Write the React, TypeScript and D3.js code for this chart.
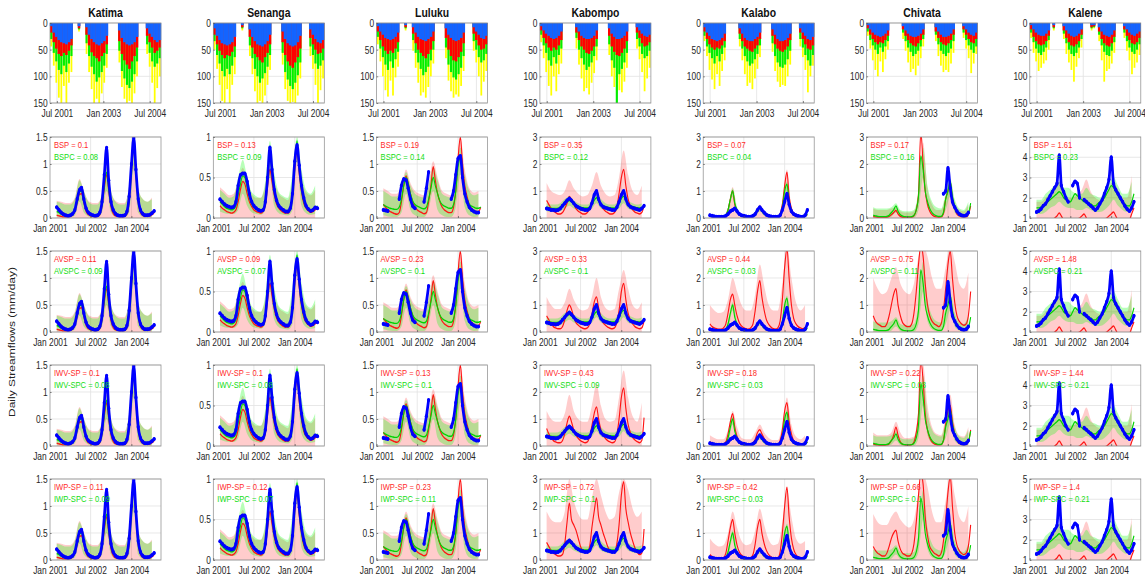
import { useEffect, useRef } from 'react';
import * as d3 from 'd3';

// the source figure is squeezed sideways, so it is drawn wide and scaled back by SX
const SX = 0.8;
const COL0 = 50, COL_STEP = 163.3, PW = 111;
const TOP_Y = 23, TOP_H = 80;
const ROW_Y = [137, 251, 365, 479], ROW_H = 81;
const FONT = 'Liberation Sans, Arial, Helvetica, sans-serif';

const stationNames = ['Katima', 'Senanga', 'Luluku', 'Kabompo', 'Kalabo', 'Chivata', 'Kalene'];
const statLabels = [['BSP', 'BSPC'], ['AVSP', 'AVSPC'], ['IWV-SP', 'IWV-SPC'], ['IWP-SP', 'IWP-SPC']];

// monthly steps, Apr 2001 .. Nov 2004 (bands every 2nd month)
const months = d3.timeMonth.range(new Date(2001, 3, 1), new Date(2004, 11, 1));
const bandMonths = months.filter((_, i) => i % 2 === 0);
const topDomain = [new Date(2001, 3, 10), new Date(2004, 10, 10)];
const topTicks = [new Date(2001, 6, 1), new Date(2003, 0, 1), new Date(2004, 6, 1)];
const lowDomain = [new Date(2001, 0, 1), new Date(2005, 1, 1)];
const lowTicks = [new Date(2001, 0, 1), new Date(2002, 6, 1), new Date(2004, 0, 1)];
const rainTicks = [0, 50, 100, 150];

// ---- rainfall (top row), depth in mm, 44 bars ----
const katimaBlue = [6,18,26,32,36,38,40,36,30, 0,0,6,0,0, 8,22,30,36,40,42,38,34,24, 0,0,0,0, 14,28,36,40,42,40,36,26, 0,0,0, 10,20,26,32,36,32];
const katimaRed = [18,36,48,58,62,56,60,52,42, 0,0,10,0,0, 22,42,55,62,66,72,62,56,40, 0,0,0,0, 34,58,70,78,86,72,62,46, 0,0,0, 24,36,46,56,52,46];
const katimaGreen = [30,56,72,88,96,80,92,76,62, 0,0,12,0,0, 38,62,82,96,110,102,92,80,58, 0,0,0,0, 52,90,104,116,122,110,96,72, 0,0,0, 40,56,72,82,76,66];
const katimaYellow = [44,80,112,140,150,118,150,112,92, 0,0,16,0,0, 58,92,124,150,142,150,132,112,84, 0,0,0,0, 74,120,142,150,146,150,132,100, 0,0,0, 58,82,112,150,122,100];

const senangaBlue = [10,24,32,38,40,42,40,36,26, 0,0,4,0,0, 12,26,34,40,42,44,40,34,22, 0,0,0,0, 16,30,38,42,44,42,36,24, 0,0,0, 12,22,30,36,38,32];
const senangaRed = [22,40,52,60,66,60,62,54,44, 0,0,8,0,0, 26,46,58,64,70,74,64,56,40, 0,0,0,0, 36,60,72,80,84,74,64,48, 0,0,0, 28,40,50,58,56,48];
const senangaGreen = [34,60,76,90,100,86,96,80,64, 0,0,10,0,0, 42,66,86,100,112,104,94,82,60, 0,0,0,0, 56,92,106,118,124,112,98,74, 0,0,0, 44,60,76,86,80,70];
const senangaYellow = [50,86,116,146,150,124,150,116,96, 0,0,14,0,0, 62,96,128,150,146,150,136,116,88, 0,0,0,0, 78,124,146,150,148,150,136,104, 0,0,0, 62,86,116,150,126,104];

const lulukuBlue = [6,16,22,28,30,32,30,26,18, 0,0,4,0,0, 8,18,26,30,32,34,30,26,16, 0,0,0,0, 10,22,28,32,34,32,28,18, 0,0,0, 8,16,22,28,30,24];
const lulukuRed = [16,32,44,52,58,52,56,48,36, 0,0,8,0,0, 20,38,50,56,62,66,58,50,34, 0,0,0,0, 28,50,62,70,72,64,54,38, 0,0,0, 20,32,42,50,48,40];
const lulukuGreen = [26,48,64,78,88,72,84,68,54, 0,0,10,0,0, 32,56,74,86,98,92,82,70,50, 0,0,0,0, 46,78,92,102,106,96,84,62, 0,0,0, 34,50,64,74,70,58];
const lulukuYellow = [40,72,100,126,138,108,136,102,82, 0,0,14,0,0, 52,84,112,136,130,140,120,100,76, 0,0,0,0, 66,108,128,140,134,138,118,90, 0,0,0, 52,74,100,136,110,90];

const kabompoBlue = [6,14,20,24,28,30,28,24,16, 0,0,0,0,0, 8,16,24,28,30,30,28,24,14, 0,0,0,0, 10,20,26,30,30,28,24,16, 0,0,0, 8,14,20,24,26,22];
const kabompoRed = [14,28,38,46,52,46,50,42,32, 0,0,0,0,0, 18,32,44,50,56,58,52,44,30, 0,0,0,0, 24,44,54,60,62,56,48,34, 0,0,0, 18,28,38,44,42,36];
const kabompoGreen = [22,42,56,70,80,64,76,60,48, 0,0,0,0,0, 28,50,66,78,88,82,74,62,44, 0,0,0,0, 40,70,84,150,96,86,74,56, 0,0,0, 30,44,58,66,62,52];
const kabompoYellow = [36,66,92,118,136,100,128,96,76, 0,0,0,0,0, 48,78,104,128,122,134,112,94,70, 0,0,0,0, 60,100,120,132,126,130,110,84, 0,0,0, 48,68,92,128,104,84];

const kalaboBlue = [8,18,24,30,32,34,32,28,20, 0,0,0,0,0, 10,20,28,32,34,34,30,26,18, 0,0,0,0, 12,22,30,34,34,32,28,20, 0,0,0, 10,18,24,30,32,26];
const kalaboRed = [16,30,40,46,50,46,48,42,34, 0,0,0,0,0, 20,34,44,48,52,54,48,42,30, 0,0,0,0, 24,40,48,52,54,50,44,32, 0,0,0, 18,30,40,48,50,42];
const kalaboGreen = [24,44,56,66,76,62,72,58,46, 0,0,0,0,0, 30,48,62,72,80,76,68,58,42, 0,0,0,0, 38,62,74,82,84,78,68,52, 0,0,0, 30,46,60,70,80,60];
const kalaboYellow = [34,62,88,106,124,96,118,90,70, 0,0,0,0,0, 44,70,96,118,112,124,104,86,64, 0,0,0,0, 54,90,110,120,116,118,100,78, 0,0,0, 44,64,88,130,100,80];

const chivataBlue = [4,12,18,22,24,26,24,20,14, 0,0,0,0,0, 6,14,20,24,26,26,24,20,12, 0,0,0,0, 8,16,22,26,26,24,20,12, 0,0,0, 6,12,18,22,24,18];
const chivataRed = [10,22,30,36,40,36,38,32,24, 0,0,0,0,0, 12,24,32,38,42,44,38,32,22, 0,0,0,0, 16,28,36,40,42,38,32,22, 0,0,0, 12,22,30,36,38,30];
const chivataGreen = [16,32,42,50,58,46,54,44,34, 0,0,0,0,0, 18,34,46,54,62,58,52,44,30, 0,0,0,0, 22,40,52,58,62,56,48,34, 0,0,0, 18,32,42,50,56,44];
const chivataYellow = [24,48,70,88,100,72,92,68,50, 0,0,0,0,0, 30,52,74,92,86,98,80,66,44, 0,0,0,0, 34,62,80,92,88,92,76,56, 0,0,0, 28,48,66,94,76,58];

const kaleneBlue = [4,12,18,22,24,24,20,14, 0,4,0,0,0, 6,14,20,24,26,24,20,12, 0,0,0,4,4,0, 8,16,22,24,26,22,14, 0,0,0, 6,12,18,22,24,20,16];
const kaleneRed = [12,26,34,40,42,40,34,24, 0,8,0,0,0, 14,28,36,42,44,40,34,22, 0,0,0,8,6,0, 16,30,38,42,44,38,26, 0,0,0, 12,24,32,38,40,36,28];
const kaleneGreen = [18,36,48,56,60,54,46,32, 0,10,0,0,0, 20,38,50,58,62,56,46,30, 0,0,0,10,8,0, 22,42,54,60,62,52,36, 0,0,0, 18,34,46,54,58,50,40];
const kaleneYellow = [28,56,72,90,84,76,70,50, 0,14,0,0,0, 30,58,74,88,110,82,66,46, 0,0,0,14,10,0, 34,70,110,90,86,76,56, 0,0,0, 28,52,70,96,84,74,60];

// ---- streamflow (mm/day), monthly ----
const katimaObs = [.2,.15,.1,.07,.05,.04,.05,.08,.15,.35,.52, .56,.35,.18,.1,.07,.05,.04,.05,.1,.3,.8, 1.3,.7,.3,.15,.08,.05,.04,.04,.05,.12,.4, 1.0,1.48,.9,.35,.15,.08,.05,.05,.06,.09,.13];
const katimaSp = [.05,.04,.03,.02,.02,.02,.03,.05,.12,.28,.44, .45,.28,.12,.06,.04,.03,.02,.03,.06,.22,.55, .8,.5,.2,.08,.04,.03,.02,.02,.03,.07,.3, .85,1.33,.8,.28,.1,.05,.03,.03,.04,.06,.09];
const katimaSpc = [.12,.1,.07,.05,.04,.04,.05,.08,.15,.3,.48, .5,.32,.17,.1,.07,.05,.04,.05,.08,.25,.6, .85,.55,.25,.13,.08,.05,.04,.04,.05,.1,.35, .9,1.38,.85,.32,.14,.08,.05,.05,.06,.08,.12];
const katimaGreenHi = [.3,.28,.25,.25,.35,.7,.5,.3,.25,.25,.45, .95,.5,.3,.25,.25,.6,1.45,.55,.35,.3,.35];
const katimaGreenLo = [.03,.02,.01,.01,.05,.3,.1,.03,.01,.01,.1, .5,.1,.02,.01,.01,.1,.9,.1,.02,.01,.02];
const katimaPink = [.32,.3,.28,.28,.38,.72,.5,.32,.28,.28,.45, 1.0,.5,.32,.28,.28,.6,1.5,.55,.35,.3,.38];
const katimaStats = [['0.1', '0.08'], ['0.11', '0.09'], ['0.1', '0.08'], ['0.11', '0.09']];

const senangaObs = [.23,.2,.17,.15,.14,.13,.14,.2,.4,.53,.55, .55,.45,.3,.2,.15,.12,.1,.09,.1,.2,.5, .87,.6,.35,.22,.15,.12,.1,.08,.08,.12,.3, .7,.9,.65,.4,.25,.15,.11,.09,.1,.13,.12];
const senangaSp = [.15,.12,.1,.08,.07,.06,.07,.1,.2,.35,.45, .42,.3,.2,.14,.1,.08,.07,.06,.08,.15,.4, .6,.45,.28,.17,.12,.09,.07,.06,.06,.1,.25, .6,.85,.55,.32,.18,.12,.09,.07,.08,.1,.12];
const senangaSpc = [.2,.17,.14,.12,.11,.1,.11,.15,.28,.42,.52, .5,.38,.25,.17,.13,.11,.1,.09,.1,.2,.5, .8,.55,.33,.2,.14,.11,.1,.09,.09,.12,.3, .7,.95,.6,.35,.2,.13,.1,.09,.1,.12,.15];
const senangaGreenHi = [.35,.3,.25,.27,.5,.72,.5,.32,.27,.25,.45, .95,.55,.32,.27,.25,.55,1.0,.6,.35,.3,.4];
const senangaGreenLo = [.08,.06,.05,.05,.1,.3,.15,.07,.05,.04,.1, .5,.15,.06,.04,.03,.1,.7,.15,.06,.04,.05];
const senangaPink = [.38,.33,.28,.3,.45,.62,.45,.3,.25,.25,.4, .75,.45,.3,.25,.22,.45,.9,.5,.32,.28,.35];
const senangaStats = [['0.13', '0.09'], ['0.09', '0.07'], ['0.1', '0.08'], ['0.12', '0.07']];

const lulukuObs = [.15,.14,.13,null,null,null,null,.35,.6,.72,.7, .55,.35,.22,.18,null,null,null,.3,.55,.85,null, null,null,null,null,null,null,null,null,.35,.5,.8, 1.1,1.15,.75,.45,.3,.2,.15,.12,.1,.1,null];
const lulukuSp = [.25,.2,.15,.12,.1,.08,.07,.1,.3,.6,.78, .65,.45,.3,.2,.15,.12,.1,.08,.1,.3,.6, .95,.7,.45,.3,.2,.15,.12,.1,.1,.2,.5, 1.1,1.5,1.0,.6,.4,.25,.18,.14,.12,.12,.2];
const lulukuSpc = [.25,.22,.2,.18,.17,.16,.16,.2,.35,.6,.75, .65,.45,.32,.25,.22,.2,.18,.17,.2,.35,.55, .75,.6,.45,.32,.25,.22,.2,.18,.18,.25,.5, .95,1.1,.8,.5,.35,.25,.22,.2,.18,.18,.2];
const lulukuGreenHi = [.5,.45,.4,.4,.55,.85,.6,.45,.4,.38,.6, .95,.7,.45,.4,.38,.75,1.3,.8,.5,.42,.45];
const lulukuGreenLo = [.05,.03,.02,.02,.1,.45,.15,.05,.02,.02,.15, .5,.15,.05,.02,.02,.2,.8,.2,.05,.02,.03];
const lulukuPink = [.55,.5,.45,.45,.6,.9,.65,.5,.45,.42,.65, 1.05,.75,.5,.45,.42,.8,1.5,.9,.55,.47,.5];
const lulukuStats = [['0.19', '0.14'], ['0.23', '0.1'], ['0.13', '0.1'], ['0.23', '0.11']];

const kabompoObs = [.35,.33,.3,.3,.28,.3,.35,.45,.55,.65,.72, .65,.55,.45,.4,.35,.32,.3,.3,.35,.55,.85, 1.0,.7,.5,.42,.38,.35,.32,.3,.3,.4,.6, .85,1.0,.7,.5,.42,.38,.35,.32,.3,.35,.45];
const kabompoSpc = [.4,.38,.36,.35,.35,.36,.4,.48,.55,.62,.65, .6,.52,.46,.42,.4,.38,.37,.37,.4,.5,.65, .75,.62,.52,.46,.42,.4,.38,.37,.37,.42,.55, .72,.8,.65,.52,.45,.42,.4,.38,.37,.38,.45];
const kabompoGreenHi = [.55,.5,.5,.55,.7,.8,.65,.55,.5,.5,.65, .9,.7,.55,.5,.5,.7,.95,.65,.55,.5,.55];
const kabompoGreenLo = [.25,.22,.22,.25,.35,.45,.35,.28,.25,.25,.35, .55,.35,.28,.25,.25,.35,.55,.35,.28,.25,.28];
const kabompoSpB = [.65,.5,.35,.25,.2,.15,.15,.2,.35,.55,.8, .7,.5,.35,.25,.2,.15,.15,.2,.35,.6,.85, 1.0,.75,.5,.35,.25,.2,.15,.15,.2,.4,.9, 1.5,1.8,1.2,.7,.45,.3,.22,.18,.15,.2,.45];
const kabompoPinkB = [1.3,1.0,.9,.85,1.0,1.4,1.1,.9,.8,.85,1.2, 1.7,1.2,.9,.8,.85,1.5,2.5,1.6,1.0,.85,1.2];
const kabompoSpAV = [.6,.45,.3,.2,.15,.12,.12,.2,.45,.8,1.0, .85,.55,.35,.25,.18,.14,.12,.15,.3,.65,1.1, 1.3,.9,.55,.35,.25,.18,.14,.12,.15,.35,.8, 1.5,1.8,1.2,.7,.45,.3,.2,.15,.12,.15,.4];
const kabompoPinkAV = [1.3,1.0,.85,.85,1.1,1.6,1.2,.9,.8,.85,1.3, 2.0,1.3,.9,.8,.85,1.6,2.3,1.6,1.0,.85,1.1];
const kabompoSpIWV = [.65,.45,.3,.2,.15,.12,.12,.2,.45,.85,1.1, .9,.6,.4,.28,.2,.15,.12,.15,.35,.75,1.2, 1.45,1.0,.6,.4,.28,.2,.15,.12,.15,.4,1.0, 1.8,2.15,1.4,.8,.5,.32,.22,.16,.12,.2,1.05];
const kabompoPinkIWV = [1.3,1.0,.9,.9,1.2,1.9,1.3,1.0,.9,.9,1.5, 2.3,1.5,1.0,.9,.95,1.8,2.8,1.8,1.1,.9,1.6];
const kabompoSpIWP = [.65,.5,.35,.25,.2,.15,.15,.2,.6,1.4,2.1, 1.5,1.3,1.1,.8,.5,.35,.3,.3,.5,1.2,1.8, 2.3,1.6,1.3,1.0,.75,.5,.35,.3,.3,.6,1.3, 2.4,2.9,1.9,1.4,1.0,.7,.45,.3,.2,.25,1.15];
const kabompoPinkIWP = [1.8,1.5,1.4,1.4,1.8,3.0,2.2,1.7,1.5,1.5,2.3, 3.0,2.4,1.8,1.5,1.6,2.5,3.0,2.6,1.9,1.6,1.8];
const kabompoStats = [['0.35', '0.12'], ['0.33', '0.1'], ['0.43', '0.09'], ['0.72', '0.1']];

const kalaboObs = [.1,.08,.06,.05,.05,.05,.05,.08,.15,.25,.3, .35,.25,.15,.1,.08,.06,.05,.05,.08,.15,.3, .4,.3,.2,.12,.08,.06,.05,.05,.05,.1,.3, .6,.9,.5,.25,.15,.1,.07,.05,.05,.1,.3];
const kalaboSpc = [.1,.07,.05,.04,.04,.04,.05,.1,.3,.7,1.0, .55,.3,.15,.08,.05,.04,.04,.05,.08,.15,.3, .35,.25,.15,.1,.06,.05,.04,.04,.05,.12,.4, 1.0,1.25,.6,.3,.15,.08,.05,.04,.04,.06,.15];
const kalaboGreenHi = [.15,.1,.08,.08,.4,1.1,.4,.12,.08,.08,.2, .45,.2,.1,.07,.07,.5,1.35,.4,.12,.08,.15];
const kalaboGreenLo = [.03,.02,.01,.01,.1,.8,.15,.03,.01,.01,.05, .25,.08,.02,.01,.01,.15,1.0,.15,.03,.01,.02];
const kalaboSpB = [.08,.06,.04,.03,.03,.03,.04,.1,.3,.7,1.0, .5,.25,.12,.07,.04,.03,.03,.04,.08,.15,.3, .4,.3,.18,.1,.06,.04,.03,.03,.04,.15,.5, 1.2,1.7,.8,.35,.15,.08,.05,.04,.04,.06,.12];
const kalaboPinkB = [.12,.08,.06,.06,.4,1.15,.35,.1,.06,.06,.2, .5,.25,.1,.06,.06,.6,1.8,.45,.12,.07,.15];
const kalaboSpAV = [.3,.2,.15,.12,.1,.1,.15,.3,.7,1.2,1.4, 1.0,.6,.35,.22,.15,.12,.1,.15,.3,.8,1.5, 1.9,1.3,.8,.45,.28,.18,.12,.1,.15,.4,1.2, 2.4,3.1,2.0,1.0,.5,.3,.2,.15,.12,.15,.3];
const kalaboPinkAV = [1.0,.8,.7,.75,1.2,2.0,1.5,1.0,.8,.8,1.4, 2.5,1.7,1.0,.8,.8,1.8,3.2,2.0,1.1,.8,1.0];
const kalaboSpIWV = [.15,.1,.07,.05,.05,.05,.07,.15,.45,.9,1.2, .7,.35,.18,.1,.07,.05,.05,.06,.12,.25,.5, .6,.45,.28,.15,.09,.06,.05,.05,.06,.2,.6, 1.3,1.6,.9,.45,.2,.1,.07,.05,.05,.07,.15];
const kalaboPinkIWV = [.4,.3,.25,.25,.6,1.3,.7,.3,.25,.25,.5, .8,.5,.3,.22,.22,.8,1.8,.8,.35,.25,.4];
const kalaboSpIWP = [.2,.12,.08,.06,.05,.05,.08,.25,.7,1.2,1.5, 1.0,.55,.3,.18,.12,.08,.07,.08,.2,.6,1.2, 1.5,1.0,.6,.35,.2,.12,.08,.07,.08,.3,1.0, 2.0,2.7,1.6,.8,.4,.2,.12,.08,.07,.1,.2];
const kalaboPinkIWP = [.8,.6,.5,.55,1.0,1.8,1.2,.7,.55,.6,1.1, 1.9,1.3,.75,.55,.6,1.4,2.6,1.6,.8,.6,.7];
const kalaboStats = [['0.07', '0.04'], ['0.44', '0.03'], ['0.18', '0.03'], ['0.42', '0.03']];

const chivataObs = [null,null,null,null,null,null,null,null,null,null,null, null,null,null,null,null,null,null,null,null,null,null, null,null,null,null,null,null,null,null,null,.9,1.0, 1.85,1.1,.6,.4,.25,.15,.1,.08,.1,.2,null];
const chivataSpc = [.1,.08,.06,.05,.05,.05,.06,.1,.2,.3,.45, .25,.12,.07,.05,.04,.04,.05,.1,.3,.8,2.3, 1.8,1.0,.6,.35,.2,.12,.08,.06,.06,.2,.7, 1.0,1.35,.8,.45,.25,.15,.1,.08,.08,.15,.55];
const chivataGreenHi = [.4,.35,.35,.35,.4,.55,.3,.25,.25,.3,1.0, 2.6,1.2,.6,.4,.35,.9,1.45,.7,.35,.3,.6];
const chivataGreenLo = [.02,.01,.01,.01,.05,.2,.03,.01,.01,.01,.3, 1.5,.4,.1,.03,.02,.3,.8,.2,.05,.02,.05];
const chivataSpB = [.05,.04,.03,.02,.02,.02,.03,.06,.12,.2,.28, .15,.06,.03,.02,.02,.02,.03,.08,.3,.9,3.2, 2.0,1.0,.5,.25,.12,.06,.04,.03,.04,.15,.7, 1.0,1.3,.7,.35,.15,.08,.05,.04,.05,.12,.45];
const chivataPinkB = [.35,.3,.3,.3,.35,.4,.25,.2,.2,.25,.9, 2.8,1.1,.5,.3,.3,.8,1.4,.6,.3,.25,.5];
const chivataSpAV = [.6,.4,.3,.25,.2,.2,.3,.6,1.0,1.4,1.6, 1.0,.6,.35,.25,.2,.2,.3,.7,1.5,2.5,3.2, 2.8,1.8,1.0,.6,.4,.3,.25,.2,.3,.8,1.6, 2.5,3.0,2.0,1.1,.6,.4,.3,.25,.3,.6,1.5];
const chivataPinkAV = [2.0,1.6,1.4,1.5,2.0,2.4,1.8,1.5,1.4,1.8,2.8, 3.2,2.8,2.0,1.6,1.6,2.4,3.2,2.6,1.8,1.6,2.2];
const chivataSpIWV = [.08,.05,.04,.03,.03,.03,.04,.08,.2,.4,.7, .4,.15,.06,.04,.03,.03,.05,.15,.5,1.2,3.2, 2.4,1.2,.6,.3,.15,.08,.05,.04,.05,.2,.8, 1.3,1.5,.9,.45,.2,.1,.06,.05,.06,.15,.6];
const chivataPinkIWV = [.5,.4,.4,.4,.5,.9,.5,.3,.3,.35,1.3, 3.0,1.5,.7,.45,.4,1.1,1.9,.8,.4,.35,.7];
const chivataSpIWP = [.5,.35,.25,.2,.15,.15,.25,.5,.8,1.0,1.1, .7,.4,.25,.2,.15,.15,.25,.6,1.4,2.4,3.2, 2.8,1.6,.9,.5,.35,.25,.2,.15,.25,.7,1.5, 2.5,3.1,2.0,1.0,.55,.35,.25,.2,.25,.5,1.3];
const chivataPinkIWP = [1.7,1.4,1.3,1.3,1.6,1.8,1.5,1.3,1.2,1.5,2.5, 3.2,2.7,1.8,1.4,1.4,2.2,3.2,2.4,1.6,1.4,2.0];
const chivataStats = [['0.17', '0.16'], ['0.75', '0.11'], ['0.22', '0.08'], ['0.66', '0.1']];

const kaleneObs = [1.3,1.35,1.45,1.6,1.7,1.9,2.1,2.3,2.5,2.7,4.1, 2.6,2.3,2.0,1.8,null,2.6,2.8,2.7,2.0,null,1.9, 1.8,1.7,1.6,1.5,1.4,1.5,1.7,1.9,2.2,2.5,2.9, 4.0,2.7,2.4,2.2,2.0,1.8,1.6,1.45,1.35,1.5,1.8];
const kaleneSp = [.8,.7,.6,.6,.6,.7,.8,.9,1.0,1.1,1.25, 1.1,.9,.8,.7,.7,.8,.9,.95,1.0,1.1,1.2, 1.0,.9,.8,.7,.7,.75,.8,.9,.95,1.0,1.1, 1.2,1.3,1.1,.9,.8,.7,.7,.75,.9,1.2,1.5];
const kaleneSpc = [1.5,1.5,1.55,1.6,1.7,1.8,1.9,2.0,2.1,2.2,2.3, 2.2,2.0,1.9,1.8,1.8,2.0,2.2,2.1,2.0,1.9,1.8, 1.8,1.7,1.7,1.6,1.6,1.7,1.8,1.9,2.0,2.2,2.4, 2.6,2.5,2.3,2.1,1.9,1.8,1.7,1.6,1.6,1.8,2.2];
const kaleneGreenHi = [1.9,1.9,2.2,2.4,2.6,2.8,2.5,2.5,2.3,2.2,2.2, 2.5,2.2,2.1,2.0,2.3,2.7,3.0,2.6,2.2,2.2,2.8];
const kaleneGreenLo = [1.2,1.2,1.3,1.5,1.6,1.8,1.6,1.5,1.5,1.4,1.4, 1.5,1.4,1.3,1.3,1.4,1.6,1.9,1.6,1.4,1.3,1.5];
const kalenePink = [1.8,1.8,2.0,2.2,2.5,2.8,2.3,2.0,2.0,2.2,2.4, 2.9,2.3,2.0,1.9,2.1,2.5,2.8,2.4,2.0,2.0,3.1];
const kaleneStats = [['1.61', '0.23'], ['1.48', '0.21'], ['1.44', '0.21'], ['1.4', '0.21']];

const ticks15 = [0, 0.5, 1, 1.5];
const ticks1 = [0, 0.5, 1];
const ticks3 = [0, 1, 2, 3];
const ticks5 = [1, 2, 3, 4, 5];

const panels = [
  { yDom: [0, 1.5], yTicks: ticks15, rain: [katimaYellow, katimaGreen, katimaRed, katimaBlue], obs: katimaObs, spc: katimaSpc, gHi: katimaGreenHi, gLo: katimaGreenLo, sp: [katimaSp, katimaSp, katimaSp, katimaSp], pink: [katimaPink, katimaPink, katimaPink, katimaPink], stats: katimaStats },
  { yDom: [0, 1], yTicks: ticks1, rain: [senangaYellow, senangaGreen, senangaRed, senangaBlue], obs: senangaObs, spc: senangaSpc, gHi: senangaGreenHi, gLo: senangaGreenLo, sp: [senangaSp, senangaSp, senangaSp, senangaSp], pink: [senangaPink, senangaPink, senangaPink, senangaPink], stats: senangaStats },
  { yDom: [0, 1.5], yTicks: ticks15, rain: [lulukuYellow, lulukuGreen, lulukuRed, lulukuBlue], obs: lulukuObs, spc: lulukuSpc, gHi: lulukuGreenHi, gLo: lulukuGreenLo, sp: [lulukuSp, lulukuSp, lulukuSp, lulukuSp], pink: [lulukuPink, lulukuPink, lulukuPink, lulukuPink], stats: lulukuStats },
  { yDom: [0, 3], yTicks: ticks3, rain: [kabompoYellow, kabompoGreen, kabompoRed, kabompoBlue], obs: kabompoObs, spc: kabompoSpc, gHi: kabompoGreenHi, gLo: kabompoGreenLo, sp: [kabompoSpB, kabompoSpAV, kabompoSpIWV, kabompoSpIWP], pink: [kabompoPinkB, kabompoPinkAV, kabompoPinkIWV, kabompoPinkIWP], stats: kabompoStats },
  { yDom: [0, 3], yTicks: ticks3, rain: [kalaboYellow, kalaboGreen, kalaboRed, kalaboBlue], obs: kalaboObs, spc: kalaboSpc, gHi: kalaboGreenHi, gLo: kalaboGreenLo, sp: [kalaboSpB, kalaboSpAV, kalaboSpIWV, kalaboSpIWP], pink: [kalaboPinkB, kalaboPinkAV, kalaboPinkIWV, kalaboPinkIWP], stats: kalaboStats },
  { yDom: [0, 3], yTicks: ticks3, rain: [chivataYellow, chivataGreen, chivataRed, chivataBlue], obs: chivataObs, spc: chivataSpc, gHi: chivataGreenHi, gLo: chivataGreenLo, sp: [chivataSpB, chivataSpAV, chivataSpIWV, chivataSpIWP], pink: [chivataPinkB, chivataPinkAV, chivataPinkIWV, chivataPinkIWP], stats: chivataStats },
  { yDom: [1, 5], yTicks: ticks5, rain: [kaleneYellow, kaleneGreen, kaleneRed, kaleneBlue], obs: kaleneObs, spc: kaleneSpc, gHi: kaleneGreenHi, gLo: kaleneGreenLo, sp: [kaleneSp, kaleneSp, kaleneSp, kaleneSp], pink: [kalenePink, kalenePink, kalenePink, kalenePink], stats: kaleneStats },
];

const RAIN_COLORS = ['#ffff00', '#00ee00', '#ff0000', '#1464ff'];
const RAIN_WIDTH = [0.7, 0.85, 1, 1.15]; // deeper layers are spikier

function styleAxis(g) {
  g.select('.domain').remove();
  g.selectAll('line').attr('stroke', '#555').attr('stroke-width', 0.8);
  g.selectAll('text').attr('font-size', 10.5).attr('font-family', FONT).attr('fill', '#262626');
}

function drawGrid(g, xs, ys, w, h) {
  const grid = g.append('g').attr('stroke', '#e2e2e2').attr('stroke-width', 0.9);
  xs.forEach((x) => grid.append('line').attr('x1', x).attr('x2', x).attr('y1', 0).attr('y2', h));
  ys.forEach((y) => grid.append('line').attr('x1', 0).attr('x2', w).attr('y1', y).attr('y2', y));
}

export default function App() {
  const ref = useRef(null);

  useEffect(() => {
    const svg = d3.select(ref.current);
    svg.selectAll('*').remove();
    const defs = svg.append('defs');
    const root = svg.append('g').attr('transform', `scale(${SX},1)`).attr('font-family', FONT);
    const pw = PW / SX;

    defs.append('clipPath').attr('id', 'clip-row')
      .append('rect').attr('width', pw).attr('height', ROW_H);

    root.append('text')
      .attr('transform', `translate(${15 / SX},342) rotate(-90)`)
      .attr('text-anchor', 'middle')
      .attr('font-size', 12)
      .attr('fill', '#222')
      .text('Daily Streamflows (mm/day)');

    panels.forEach((st, c) => {
      const x0 = (COL0 + c * COL_STEP) / SX;

      // rainfall panel
      const gt = root.append('g').attr('transform', `translate(${x0},${TOP_Y})`);
      const xt = d3.scaleTime().domain(topDomain).range([0, pw]);
      const xb = d3.scaleBand().domain(d3.range(st.rain[0].length)).range([0, pw]);
      const yt = d3.scaleLinear().domain([0, 150]).range([0, TOP_H]);
      drawGrid(gt, topTicks.map(xt), [50, 100].map(yt), pw, TOP_H);
      st.rain.forEach((layer, k) => {
        const bw = xb.bandwidth() * RAIN_WIDTH[k];
        gt.append('g').attr('fill', RAIN_COLORS[k])
          .selectAll('rect').data(layer).join('rect')
          .attr('x', (_, i) => xb(i) + (xb.bandwidth() - bw) / 2)
          .attr('width', bw)
          .attr('y', 0)
          .attr('height', (d) => yt(d));
      });
      gt.append('rect').attr('width', pw).attr('height', TOP_H)
        .attr('fill', 'none').attr('stroke', '#8c8c8c').attr('stroke-width', 0.9);
      gt.append('g').call(d3.axisLeft(yt).tickValues(rainTicks).tickFormat(d3.format('~g')).tickSize(-2).tickPadding(3)).call(styleAxis);
      gt.append('g').attr('transform', `translate(0,${TOP_H})`)
        .call(d3.axisBottom(xt).tickValues(topTicks).tickFormat(d3.timeFormat('%b %Y')).tickSize(-2).tickPadding(7))
        .call(styleAxis);
      gt.append('text').attr('x', pw / 2).attr('y', -6)
        .attr('text-anchor', 'middle').attr('font-weight', 'bold').attr('font-size', 13)
        .attr('fill', '#111').text(stationNames[c]);

      // streamflow panels
      ROW_Y.forEach((ry, r) => {
        const g = root.append('g').attr('transform', `translate(${x0},${ry})`);
        const x = d3.scaleTime().domain(lowDomain).range([0, pw]);
        const y = d3.scaleLinear().domain(st.yDom).range([ROW_H, 0]);

        drawGrid(g, lowTicks.slice(1).map(x), st.yTicks.slice(1, -1).map(y), pw, ROW_H);

        const plot = g.append('g').attr('clip-path', 'url(#clip-row)');
        const pink = d3.area().x((_, i) => x(bandMonths[i])).y0(ROW_H).y1((d) => y(d)).curve(d3.curveMonotoneX);
        plot.append('path').datum(st.pink[r]).attr('d', pink).attr('fill', '#ff0000').attr('fill-opacity', 0.2);
        const band = d3.area().x((_, i) => x(bandMonths[i])).y0((_, i) => y(st.gLo[i])).y1((d) => y(d)).curve(d3.curveMonotoneX);
        plot.append('path').datum(st.gHi).attr('d', band).attr('fill', '#00ff00').attr('fill-opacity', 0.28);

        const line = d3.line().defined((d) => d != null).x((_, i) => x(months[i])).y((d) => y(d)).curve(d3.curveMonotoneX);
        plot.append('path').datum(st.sp[r]).attr('d', line).attr('fill', 'none').attr('stroke', '#ff1414').attr('stroke-width', 1.4);
        plot.append('path').datum(st.spc).attr('d', line).attr('fill', 'none').attr('stroke', '#00d200').attr('stroke-width', 1.4);
        plot.append('path').datum(st.obs).attr('d', line).attr('fill', 'none').attr('stroke', '#0000ff')
          .attr('stroke-width', 3.4).attr('stroke-linecap', 'round').attr('stroke-linejoin', 'round');
        plot.append('g').attr('fill', '#0000ff')
          .selectAll('circle').data(st.obs.map((v, i) => ({ v, i })).filter((d) => d.v != null)).join('circle')
          .attr('cx', (d) => x(months[d.i])).attr('cy', (d) => y(d.v)).attr('r', 2);

        g.append('rect').attr('width', pw).attr('height', ROW_H)
          .attr('fill', 'none').attr('stroke', '#8c8c8c').attr('stroke-width', 0.9);
        g.append('g').call(d3.axisLeft(y).tickValues(st.yTicks).tickFormat(d3.format('~g')).tickSize(-2).tickPadding(3)).call(styleAxis);
        g.append('g').attr('transform', `translate(0,${ROW_H})`)
          .call(d3.axisBottom(x).tickValues(lowTicks).tickFormat(d3.timeFormat('%b %Y')).tickSize(-2).tickPadding(7))
          .call(styleAxis);

        const [spName, spcName] = statLabels[r];
        const [spVal, spcVal] = st.stats[r];
        g.append('text').attr('x', 4 / SX).attr('y', 11).attr('font-size', 9.5).attr('fill', '#ff2a2a')
          .text(`${spName} = ${spVal}`);
        g.append('text').attr('x', 4 / SX).attr('y', 23).attr('font-size', 9.5).attr('fill', '#11dd11')
          .text(`${spcName} = ${spcVal}`);
      });
    });
  }, []);

  return (
    <svg
      ref={ref}
      width={1145}
      height={577}
      style={{ position: 'absolute', left: 0, top: 0, background: '#fff' }}
    />
  );
}
